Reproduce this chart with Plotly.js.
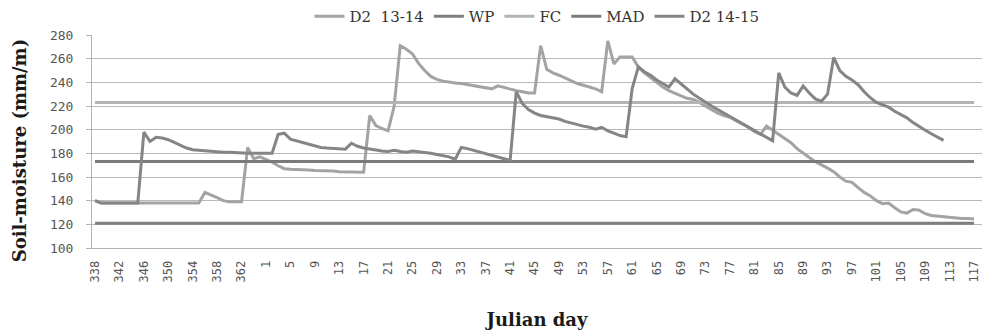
<!DOCTYPE html>
<html>
<head>
<meta charset="utf-8">
<script src="https://cdn.plot.ly/plotly-3.0.1.min.js"></script>
<style>html,body{margin:0;padding:0;background:#fff;}#chart{width:982px;height:334px;}</style>
</head>
<body>
<div id="chart"></div>
<script>
// Julian day categories (Dec 2013/14 -> Apr)
const categories = [
  "338","339","340","341","342","343","344","345","346","347","348","349","350","351",
  "352","353","354","355","356","357","358","359","360","361","362","363","364","365",
  "1","2","3","4","5","6","7","8","9","10","11","12","13","14","15","16","17","18","19","20",
  "21","22","23","24","25","26","27","28","29","30","31","32","33","34","35","36","37","38","39","40",
  "41","42","43","44","45","46","47","48","49","50","51","52","53","54","55","56","57","58","59","60",
  "61","62","63","64","65","66","67","68","69","70","71","72","73","74","75","76","77","78","79","80",
  "81","82","83","84","85","86","87","88","89","90","91","92","93","94","95","96","97","98","99","100",
  "101","102","103","104","105","106","107","108","109","110","111","112","113","114","115","116","117"
];

// Soil moisture, D2 season 2013-14 (mm/m)
const d2_1314 = [
  140,138,138,138,138,138,138,138,138,138,
  138,138,138,138,138,138,138,138,147,145,
  142.5,140,139,139,139,185,175.5,177,175,172.5,
  169.5,167,166.5,166.5,166,166,165.5,165.5,165,165,
  164.5,164.5,164.5,164,164,212,203.5,201,199,220,
  271,268,264,256,250,245,242.5,241,240,239.5,
  239,238,237.5,236.5,235,234.5,237,235.5,234,233,
  232,231,231,271,251,248,246,243.5,241,239,
  237.5,236,234.5,232,275,255.5,261.5,261.5,261.5,253,
  248,244,240,236,233,230.5,228.5,226.5,225.5,223,
  220,217.5,214,212,210.5,207.5,205,202,198.5,196,
  203,199.5,196.5,193,189,184,180,176.5,173,170.5,
  167.5,164.5,160,156.5,155.5,151,147,144,140,137.5,
  138,134,130.5,129.5,132.5,132,129,127.5,127,126,
  125.5,125.5,125,125,124.5
];

// Soil moisture, D2 season 2014-15 (mm/m)
const d2_1415 = [
  140,138,138,138,138,138,138,138,198,190,
  193.5,193,191.5,189,186.5,184.5,183,182.5,182,181.5,
  181.5,181,181,180.5,180.5,180,180,180,180,180,
  196,197,192,190.5,189,187.5,186,185,184.5,184,
  183.5,183.5,188.5,186,184.5,183.5,182.5,182,181.5,182.5,
  181.5,181,182,181.5,181,180,179,178,177,175,
  185,184,182.5,181,179.5,178,176.5,175,174,232,
  222,217,214,212,211,210,209,207,205.5,204,
  203,202,200.5,202,199,197,195,194,235,253,
  249,246,242,239,236,243,238.5,234,230,226.5,
  223,220,217,214,211,208,205,202,199,196,
  193,190.5,248,236,231,229,237,231,226,224,
  230,261,250,245,242,238,232,227,223,221,
  219,215.5,212.5,210,206,202.5,199.5,196.5,194,191
];

// Reference levels (mm/m)
const WP = 121;   // wilting point
const FC = 223;   // field capacity
const MAD = 173;  // management allowed depletion

const tickLabelsEvery = 4;
const tickvals = categories.filter((c, i) => i % tickLabelsEvery === 0);

const wpLine = categories.map(() => WP);
const fcLine = categories.map(() => FC);
const madLine = categories.map(() => MAD);

const traces = [
  {name: 'D2  13-14', x: categories.slice(0, d2_1314.length), y: d2_1314, type: 'scatter', mode: 'lines',
   line: {color: '#a3a3a3', width: 3}},
  {name: 'WP', x: categories, y: wpLine, type: 'scatter', mode: 'lines',
   line: {color: '#7e7e7e', width: 3}},
  {name: 'FC', x: categories, y: fcLine, type: 'scatter', mode: 'lines',
   line: {color: '#b4b4b4', width: 3}},
  {name: 'MAD', x: categories, y: madLine, type: 'scatter', mode: 'lines',
   line: {color: '#7a7a7a', width: 3}},
  {name: 'D2 14-15', x: categories.slice(0, d2_1415.length), y: d2_1415, type: 'scatter', mode: 'lines',
   line: {color: '#858585', width: 3}}
];

const tickFontY = {family: 'DejaVu Sans Mono', size: 13, color: '#555555'};
const tickFontX = {family: 'DejaVu Sans Mono', size: 12, color: '#555555'};
const titleFont = {family: 'DejaVu Serif', size: 18, color: '#1a1a1a'};

const layout = {
  width: 982, height: 334,
  margin: {l: 92, r: 0, t: 34, b: 86, pad: 0},
  paper_bgcolor: '#ffffff', plot_bgcolor: '#ffffff',
  showlegend: true,
  legend: {orientation: 'h', x: 0.5, xanchor: 'center', y: 1.085, yanchor: 'middle',
           font: {family: 'DejaVu Serif', size: 15, color: '#333333'}, bgcolor: 'rgba(0,0,0,0)'},
  xaxis: {type: 'category', range: [-0.5, categories.length + 0.3], tickmode: 'array',
          tickvals: tickvals, ticktext: tickvals, tickangle: -90,
          showgrid: false, zeroline: false, showline: true, linecolor: '#b3b3b3', linewidth: 1,
          ticks: '', tickfont: tickFontX, ticklabelstandoff: 7, automargin: false,
          title: {text: '<b>Julian day</b>', font: titleFont, standoff: 31}},
  yaxis: {range: [100, 280], tick0: 100, dtick: 20, showgrid: true, gridcolor: '#b9b9b9', gridwidth: 1,
          zeroline: false, showline: true, linecolor: '#b3b3b3', linewidth: 1,
          ticks: 'outside', ticklen: 5, tickcolor: '#b3b3b3', tickfont: tickFontY,
          ticklabelstandoff: 10, automargin: false},
  annotations: [
    {text: '<b>Soil-moisture (mm/m)</b>', xref: 'paper', yref: 'paper', x: -0.081, y: 0.458,
     xanchor: 'center', yanchor: 'middle', textangle: -90, showarrow: false, font: titleFont}
  ]
};

Plotly.newPlot('chart', traces, layout, {displayModeBar: false, staticPlot: true});
</script>
</body>
</html>
